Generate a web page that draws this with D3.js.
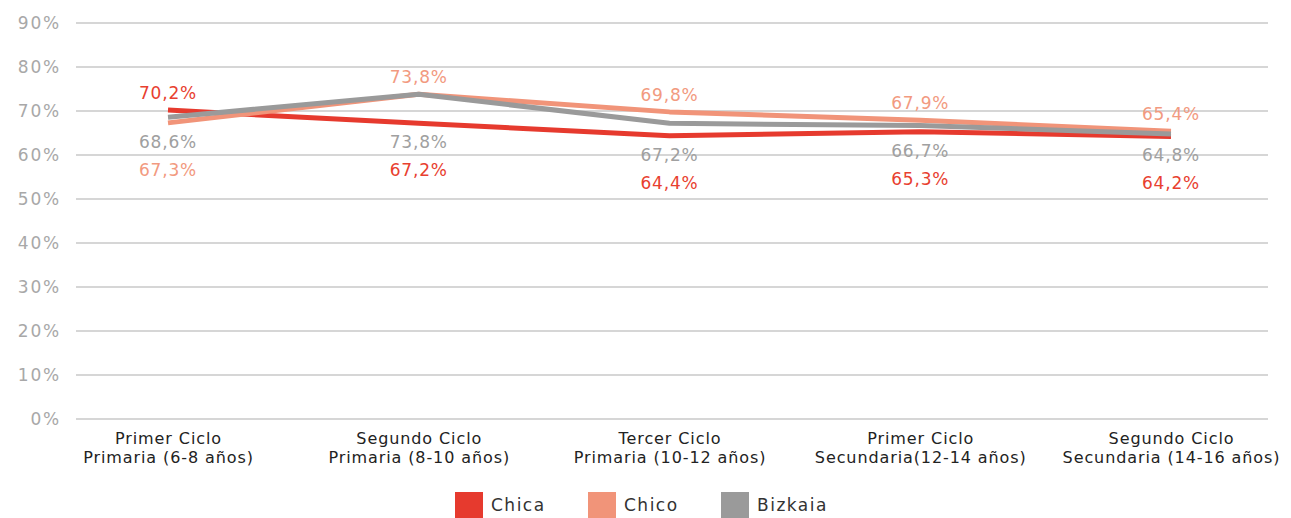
<!DOCTYPE html>
<html>
<head>
<meta charset="utf-8">
<script src="https://cdn.jsdelivr.net/npm/d3@7"></script>
<style>
  html, body { margin: 0; padding: 0; background: #fff; }
  svg { display: block; font-family: "DejaVu Sans", sans-serif; }
</style>
</head>
<body>
<svg id="chart" width="1291" height="518"></svg>
<script>
// Stages of schooling (two-line tick labels)
const categories = [
  ["Primer Ciclo", "Primaria (6-8 años)"],
  ["Segundo Ciclo", "Primaria (8-10 años)"],
  ["Tercer Ciclo", "Primaria (10-12 años)"],
  ["Primer Ciclo", "Secundaria(12-14 años)"],
  ["Segundo Ciclo", "Secundaria (14-16 años)"]
];
const seriesNames = ["Chica", "Chico", "Bizkaia"];
const chica   = [70.2, 67.2, 64.4, 65.3, 64.2];
const chico   = [67.3, 73.8, 69.8, 67.9, 65.4];
const bizkaia = [68.6, 73.8, 67.2, 66.7, 64.8];
const yTicks  = [0, 10, 20, 30, 40, 50, 60, 70, 80, 90];

const colors = { Chica: "#e63a2e", Chico: "#f19479", Bizkaia: "#9a9a9a" };
const labelColors = { Chica: "#e8402f", Chico: "#f29a80", Bizkaia: "#a0a0a0" };

const series = [
  { name: "Chica", values: chica },
  { name: "Chico", values: chico },
  { name: "Bizkaia", values: bizkaia }
];

const svg = d3.select("#chart");
const gridLeft = 76, gridRight = 1268;

const x = d3.scalePoint().domain(d3.range(categories.length)).range([168, 1171]);
const y = d3.scaleLinear().domain([0, 90]).range([419, 23]);

const fmt = v => d3.format(".1f")(v).replace(".", ",") + "%";

// Horizontal gridlines
svg.append("g")
  .selectAll("line")
  .data(yTicks)
  .join("line")
  .attr("x1", gridLeft).attr("x2", gridRight)
  .attr("y1", d => y(d)).attr("y2", d => y(d))
  .attr("stroke", "#c8c8c8")
  .attr("stroke-width", 1.5);

// Y axis labels
const yAxis = d3.axisLeft(y).tickValues(yTicks).tickFormat(d => d + "%").tickSize(0).tickPadding(0);
svg.append("g")
  .attr("transform", "translate(61,0)")
  .call(yAxis)
  .call(g => g.select(".domain").remove())
  .call(g => g.selectAll("text")
    .attr("fill", "#a8a8a8")
    .style("font-size", "17px")
    .style("letter-spacing", "1.8px")
    .style("font-family", "'DejaVu Sans', sans-serif"));

// X axis category labels (two lines)
const xAxis = d3.axisBottom(x).tickSize(0).tickFormat("");
const xg = svg.append("g").attr("transform", "translate(0,419)").call(xAxis);
xg.select(".domain").remove();
xg.selectAll(".tick").each(function(d) {
  const t = d3.select(this).append("text")
    .attr("text-anchor", "middle")
    .attr("fill", "#222")
    .style("font-size", "16px")
    .style("letter-spacing", "0.9px")
    .style("font-family", "'DejaVu Sans', sans-serif");
  t.append("tspan").attr("x", 0).attr("y", 25).text(categories[d][0]);
  t.append("tspan").attr("x", 0).attr("y", 44).text(categories[d][1]);
});

// Lines
const line = d3.line().x((d, i) => x(i)).y(d => y(d));
svg.append("g")
  .selectAll("path")
  .data(series)
  .join("path")
  .attr("d", s => line(s.values))
  .attr("fill", "none")
  .attr("stroke", s => colors[s.name])
  .attr("stroke-width", 5)
  .attr("stroke-linejoin", "round");

// Value labels: the higher of Chica/Chico sits above the lines,
// Bizkaia and the other series are stacked below.
const labels = [];
categories.forEach((c, i) => {
  const top = chica[i] >= chico[i] ? "Chica" : "Chico";
  const bottom = top === "Chica" ? "Chico" : "Chica";
  const valOf = n => series.find(s => s.name === n).values[i];
  const low = y(Math.min(chica[i], chico[i]));
  labels.push({ i, name: top, v: valOf(top), yy: y(valOf(top)) - 17 });
  labels.push({ i, name: "Bizkaia", v: valOf("Bizkaia"), yy: low + 19 });
  labels.push({ i, name: bottom, v: valOf(bottom), yy: low + 47 });
});

svg.append("g")
  .selectAll("text")
  .data(labels)
  .join("text")
  .attr("x", d => x(d.i))
  .attr("y", d => d.yy)
  .attr("dy", "0.35em")
  .attr("text-anchor", "middle")
  .attr("fill", d => labelColors[d.name])
  .style("font-size", "17px")
  .style("letter-spacing", "0.8px")
  .text(d => fmt(d.v));

// Legend
const legendX = [455, 588, 721];
const lg = svg.append("g")
  .selectAll("g")
  .data(seriesNames)
  .join("g")
  .attr("transform", (d, i) => `translate(${legendX[i]},492)`);
lg.append("rect")
  .attr("width", 28).attr("height", 26)
  .attr("fill", d => colors[d]);
lg.append("text")
  .attr("x", 36).attr("y", 13).attr("dy", "0.35em")
  .attr("fill", "#333")
  .style("font-size", "17px")
  .style("letter-spacing", "1.5px")
  .text(d => d);
</script>
</body>
</html>
